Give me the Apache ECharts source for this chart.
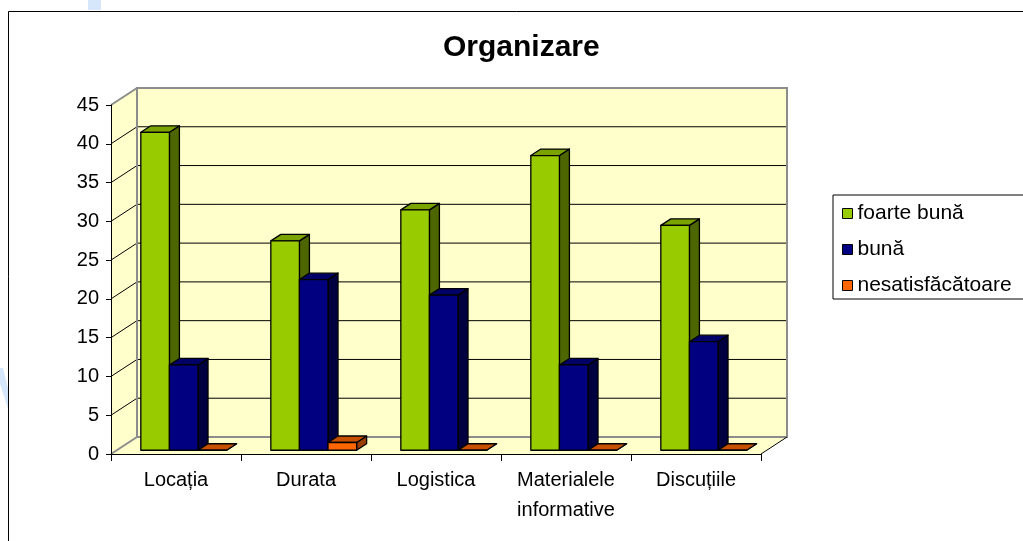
<!DOCTYPE html>
<html style="height: 100%">
<head>
    <meta charset="UTF-8" />
    <title>Organizare</title>
    <script src="https://cdn.jsdelivr.net/npm/echarts@6.0.0/dist/echarts.min.js"></script>
</head>
<body style="height: 100%; margin: 0; background: #fff">
    <div id="main" style="width: 1023px; height: 541px; margin: 0"></div>
    <script type="text/javascript">
        // data
        var categories = ['Locația', 'Durata', 'Logistica', 'Materialele\ninformative', 'Discuțiile'];
        var foarteBuna = [41, 27, 31, 38, 29];
        var buna = [11, 22, 20, 11, 14];
        var nesatisfacatoare = [0, 1, 0, 0, 0];
        var seriesNames = ['foarte bună', 'bună', 'nesatisfăcătoare'];
        var yMin = 0, yMax = 45, yStep = 5;

        var FONT = 'Arial, "Liberation Sans", sans-serif';
        // 3d look: wall depth and bar depth (pixels)
        var WALL_DX = 26, WALL_DY = -17;
        var BAR_DX = 10, BAR_DY = -6.5;
        var WALL_FILL = '#FFFFCC';
        var WALL_EDGE = '#8c8c8c';

        var colors = [
            { front: '#99CC00', top: '#7AA300', side: '#4D6600' },
            { front: '#000080', top: '#000066', side: '#000040' },
            { front: '#FF6600', top: '#C65000', side: '#993D00' }
        ];

        var chartDom = document.getElementById('main');
        var myChart = echarts.init(chartDom);
        var option;

        function renderWalls(params, api)
        {
            var cs = params.coordSys;
            var L = cs.x, R = cs.x + cs.width, T = cs.y, B = cs.y + cs.height;
            var kids = [];
            kids.push({ type: 'polygon', shape: { points: [[L, B], [L, T], [L + WALL_DX, T + WALL_DY], [L + WALL_DX, B + WALL_DY]] }, style: { fill: WALL_FILL } });
            kids.push({ type: 'polygon', shape: { points: [[L, B], [R, B], [R + WALL_DX, B + WALL_DY], [L + WALL_DX, B + WALL_DY]] }, style: { fill: WALL_FILL } });
            kids.push({ type: 'rect', shape: { x: L + WALL_DX, y: T + WALL_DY, width: R - L, height: B - T }, style: { fill: WALL_FILL } });
            for (var v = yMin + yStep; v < yMax; v += yStep)
            {
                var y = api.coord([0, v])[1];
                kids.push({ type: 'line', shape: { x1: L + WALL_DX, y1: y + WALL_DY, x2: R + WALL_DX, y2: y + WALL_DY }, style: { stroke: '#000', lineWidth: 1 } });
                kids.push({ type: 'line', shape: { x1: L, y1: y, x2: L + WALL_DX, y2: y + WALL_DY }, style: { stroke: '#000', lineWidth: 1 } });
            }
            kids.push({ type: 'rect', shape: { x: L + WALL_DX, y: T + WALL_DY, width: R - L, height: B - T }, style: { fill: null, stroke: WALL_EDGE, lineWidth: 2 } });
            kids.push({ type: 'line', shape: { x1: L, y1: T, x2: L + WALL_DX, y2: T + WALL_DY }, style: { stroke: WALL_EDGE, lineWidth: 2 } });
            kids.push({ type: 'line', shape: { x1: L, y1: B, x2: L + WALL_DX, y2: B + WALL_DY }, style: { stroke: WALL_EDGE, lineWidth: 2 } });
            kids.push({ type: 'line', shape: { x1: R, y1: B, x2: R + WALL_DX, y2: B + WALL_DY }, style: { stroke: '#000', lineWidth: 1 } });
            return { type: 'group', children: kids };
        }

        function makeBarRenderer(sIdx)
        {
            return function (params, api)
            {
                var cat = api.value(0), val = api.value(1);
                var base = api.coord([cat, 0]);
                var top = api.coord([cat, val]);
                var band = api.size([1, 0])[0];
                var w = band * 0.22;
                var x0 = base[0] + WALL_DX * 0.22 - 1.5 * w + 2 + sIdx * w;
                var yb = base[1] + WALL_DY * 0.22;
                var yt = top[1] + WALL_DY * 0.22;
                var c = colors[sIdx];
                var line = { stroke: '#000', lineWidth: 1.3, lineJoin: 'round' };
                return {
                    type: 'group',
                    children: [
                        {
                            type: 'polygon',
                            shape: { points: [[x0 + w, yt], [x0 + w + BAR_DX, yt + BAR_DY], [x0 + w + BAR_DX, yb + BAR_DY], [x0 + w, yb]] },
                            style: Object.assign({ fill: c.side }, line)
                        },
                        {
                            type: 'polygon',
                            shape: { points: [[x0, yt], [x0 + w, yt], [x0 + w + BAR_DX, yt + BAR_DY], [x0 + BAR_DX, yt + BAR_DY]] },
                            style: Object.assign({ fill: c.top }, line)
                        },
                        {
                            type: 'rect',
                            shape: { x: x0, y: yt, width: w, height: yb - yt },
                            style: Object.assign({ fill: c.front }, line)
                        }
                    ]
                };
            };
        }

        function toData(arr)
        {
            return arr.map(function (v, i) { return [i, v]; });
        }

        var dataSets = [foarteBuna, buna, nesatisfacatoare];
        var series = [{
            type: 'custom',
            name: 'walls',
            renderItem: renderWalls,
            data: [[0, 0]],
            silent: true,
            z: 1
        }];
        dataSets.forEach(function (arr, i)
        {
            series.push({
                type: 'custom',
                name: seriesNames[i],
                renderItem: makeBarRenderer(i),
                data: toData(arr),
                itemStyle: { color: colors[i].front, borderColor: '#000', borderWidth: 1 },
                z: 2
            });
        });

        option = {
            animation: false,
            backgroundColor: '#fff',
            textStyle: { fontFamily: FONT },
            title: {
                text: 'Organizare',
                left: 443,
                top: 33,
                padding: 0,
                textStyle: { fontFamily: FONT, fontSize: 30, fontWeight: 'bold', color: '#000' }
            },
            legend: {
                data: seriesNames,
                orient: 'vertical',
                left: 833,
                top: 195,
                padding: [8, 80, 3, 9],
                itemGap: 15,
                itemWidth: 10,
                itemHeight: 10,
                icon: 'rect',
                borderColor: '#000',
                borderWidth: 1,
                selectedMode: false,
                itemStyle: { borderColor: '#000', borderWidth: 1 },
                textStyle: { fontFamily: FONT, fontSize: 21, color: '#000', padding: 0 }
            },
            grid: {
                left: 111,
                right: 262,
                top: 105,
                bottom: 87,
                containLabel: false,
                outerBoundsMode: 'none'
            },
            xAxis: {
                type: 'category',
                data: categories,
                boundaryGap: true,
                axisLine: { show: true, lineStyle: { color: '#000', width: 1 } },
                axisTick: { show: true, length: 7, lineStyle: { color: '#000' } },
                axisLabel: { fontFamily: FONT, fontSize: 20, color: '#000', margin: 11, lineHeight: 30, interval: 0 },
                splitLine: { show: false },
                z: 5
            },
            yAxis: {
                type: 'value',
                min: yMin,
                max: yMax,
                interval: yStep,
                axisLine: { show: true, lineStyle: { color: '#000', width: 1 } },
                axisTick: { show: true, length: 5, lineStyle: { color: '#000' } },
                axisLabel: { fontFamily: FONT, fontSize: 20, color: '#000', margin: 12 },
                splitLine: { show: false },
                z: 5
            },
            graphic: [
                { type: 'rect', shape: { x: 88, y: 0, width: 13, height: 10 }, style: { fill: '#d6e6fb' }, z: 0 },
                { type: 'polygon', shape: { points: [[0, 368], [3, 368], [9, 392], [9, 412], [0, 384]] }, style: { fill: '#d6e6fb' }, z: 0 },
                { type: 'rect', shape: { x: 8.5, y: 11.5, width: 1100, height: 700 }, style: { fill: null, stroke: '#000', lineWidth: 1 }, z: 0 }
            ],
            tooltip: { show: false },
            series: series
        };

        myChart.setOption(option);
    </script>
</body>
</html>
